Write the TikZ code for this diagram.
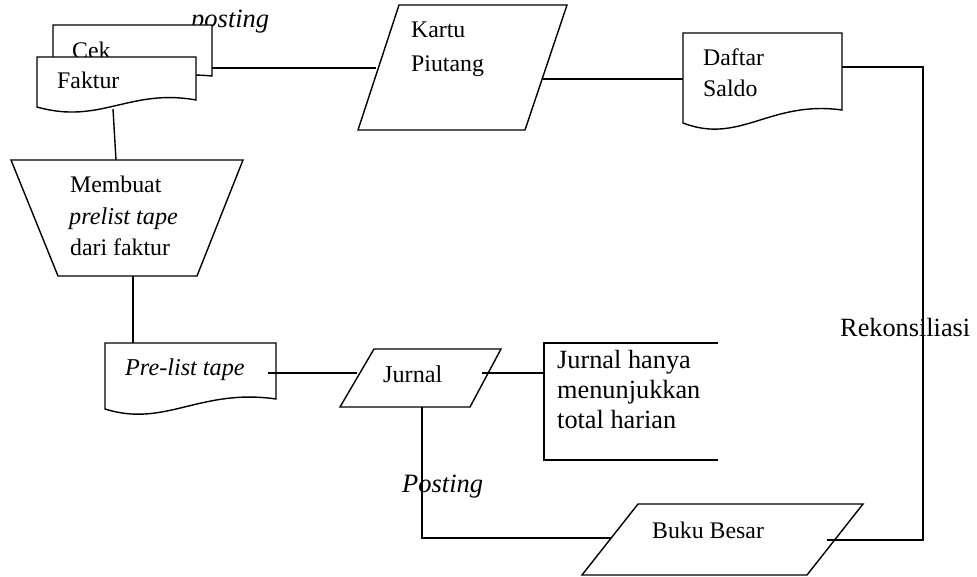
\documentclass[tikz,border=0pt]{standalone}
\usepackage{fontspec}
\setmainfont{Liberation Serif}
\usepackage{tikz}

\tikzset{
  shp/.style={draw=black, line width=1.4pt, fill=white, line join=miter},
  con/.style={draw=black, line width=1.4pt},
  txt/.style={inner sep=0pt, anchor=base west, font=\fontsize{23.8}{28}\selectfont},
  itxt/.style={txt, font=\fontsize{24.2}{28}\selectfont\itshape},
  bigtxt/.style={txt, font=\fontsize{26.3}{30}\selectfont},
  bigitxt/.style={txt, font=\fontsize{26.5}{30}\selectfont\itshape}
}

\begin{document}
\begin{tikzpicture}[x=1pt,y=-1pt]
\useasboundingbox (0,0) rectangle (977,577);
% label above cek
\node[bigitxt] (lblpost) at (191,28) {posting};
% cek and faktur
\draw[shp] (53,25) -- (212,25) -- (212,76) .. controls (150,70) and (110,95) .. (53,83) -- cycle;
\node[txt] (cek) at (72,59) {Cek};
\draw[shp] (37,57) -- (196,57) -- (196,100) .. controls (130,88) and (100,125) .. (37,107) -- cycle;
\node[txt] (faktur) at (57,89) {Faktur};
% kartu piutang
\draw[shp] (399,5) -- (567,5) -- (525,130) -- (358,130) -- cycle;
\node[txt] (kartu) at (411,38) {Kartu};
\node[txt] (piutang) at (411,72) {Piutang};
% daftar saldo
\draw[shp] (683,33) -- (842,33) -- (842,110) .. controls (770,100) and (740,145) .. (683,123) -- cycle;
\node[txt] (daftar) at (703,66) {Daftar};
\node[txt] (saldo) at (703,97) {Saldo};
% membuat prelist tape
\draw[shp] (11,160) -- (243,160) -- (197,276) -- (58,276) -- cycle;
\node[txt] (membuat) at (70,193) {Membuat};
\node[itxt] (prelist) at (69,225) {prelist tape};
\node[txt] (darifaktur) at (70,256) {dari faktur};
% pre-list tape
\draw[shp] (105,343) -- (276,343) -- (276,399) .. controls (200,388) and (165,428) .. (105,409) -- cycle;
\node[itxt] (pretape) at (125,375) {Pre-list tape};
% jurnal
\draw[shp] (374,349) -- (501,349) -- (470,407) -- (340,407) -- cycle;
\node[itxt, font=\fontsize{24.2}{28}\selectfont] (jurnal) at (383,382) {Jurnal};
% keterangan
\draw[shp] (718,343) -- (544,343) -- (544,460) -- (718,460);
\node[bigtxt] (ket1) at (557,368) {Jurnal hanya};
\node[bigtxt] (ket2) at (557,398) {menunjukkan};
\node[bigtxt] (ket3) at (557,428) {total harian};
% buku besar
\draw[shp] (638,504) -- (863,504) -- (807,575) -- (582,575) -- cycle;
\node[txt] (buku) at (652,538) {Buku Besar};
% other labels
\node[bigitxt] (lblposting) at (402,492) {Posting};
\node[bigtxt] (lblrekon) at (840,336) {Rekonsiliasi};

% connector ends
\coordinate (cek-o) at (212,68);
\coordinate (kartu-i) at (376,68);
\coordinate (kartu-o) at (543,79);
\coordinate (daftar-i) at (683,79);
\coordinate (daftar-o) at (842,67);
\coordinate (rekon-c1) at (923,67);
\coordinate (rekon-c2) at (923,540);
\coordinate (buku-o) at (827,540);
\coordinate (faktur-o) at (113,109);
\coordinate (membuat-i) at (116,160);
\coordinate (membuat-o) at (133,276);
\coordinate (pretape-i) at (133,343);
\coordinate (pretape-o) at (268,373);
\coordinate (jurnal-i) at (357,373);
\coordinate (jurnal-o) at (482,373);
\coordinate (ket-i) at (544,373);
\coordinate (jurnal-b) at (422,407);
\coordinate (post-c) at (422,538);
\coordinate (buku-i) at (611,538);

\draw[con] (cek-o) -- (kartu-i);
\draw[con] (kartu-o) -- (daftar-i);
\draw[con] (daftar-o) -- (rekon-c1) -- (rekon-c2) -- (buku-o);
\draw[con] (faktur-o) -- (membuat-i);
\draw[con] (membuat-o) -- (pretape-i);
\draw[con] (pretape-o) -- (jurnal-i);
\draw[con] (jurnal-o) -- (ket-i);
\draw[con] (jurnal-b) -- (post-c) -- (buku-i);
\end{tikzpicture}
\end{document}
